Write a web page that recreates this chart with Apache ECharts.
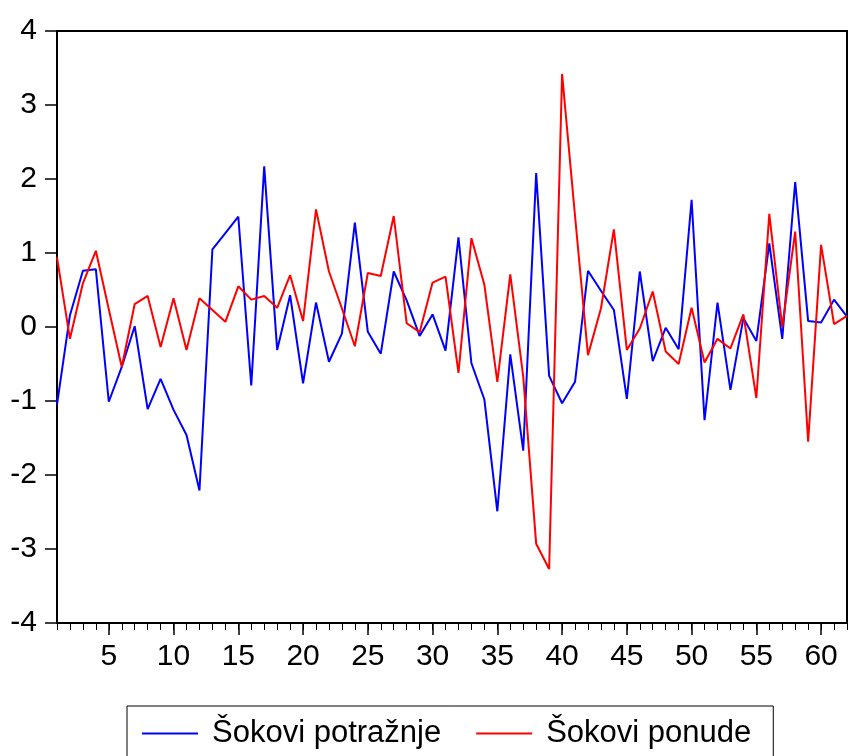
<!DOCTYPE html>
<html>
<head>
<meta charset="utf-8">
<script src="https://cdn.jsdelivr.net/npm/echarts@6/dist/echarts.min.js"></script>
<style>
  html, body { margin: 0; padding: 0; background: #fff; }
  #chart { width: 849px; height: 756px; }
</style>
</head>
<body>
<div id="chart"></div>
<script>
// period index 1..62
var periods = [1, 2, 3, 4, 5, 6, 7, 8, 9, 10, 11, 12, 13, 14, 15, 16, 17, 18, 19, 20,
  21, 22, 23, 24, 25, 26, 27, 28, 29, 30, 31, 32, 33, 34, 35, 36, 37, 38, 39, 40,
  41, 42, 43, 44, 45, 46, 47, 48, 49, 50, 51, 52, 53, 54, 55, 56, 57, 58, 59, 60, 61, 62];

// Šokovi potražnje (blue)
var sokoviPotraznje = [-1.05, 0.16, 0.76, 0.78, -1.01, -0.54, 0.01, -1.11, -0.70, -1.12,
  -1.46, -2.21, 1.05, 1.27, 1.49, -0.79, 2.17, -0.31, 0.43, -0.76,
  0.33, -0.47, -0.09, 1.41, -0.065, -0.36, 0.75, 0.36, -0.12, 0.17,
  -0.32, 1.21, -0.49, -0.98, -2.49, -0.37, -1.67, 2.08, -0.66, -1.03,
  -0.74, 0.76, 0.49, 0.23, -0.97, 0.75, -0.46, -0.01, -0.30, 1.72,
  -1.26, 0.33, -0.85, 0.12, -0.19, 1.13, -0.16, 1.96, 0.08, 0.06,
  0.37, 0.14];

// Šokovi ponude (red)
var sokoviPonude = [0.94, -0.16, 0.59, 1.03, 0.24, -0.54, 0.31, 0.42, -0.27, 0.39,
  -0.31, 0.39, 0.23, 0.07, 0.55, 0.37, 0.42, 0.26, 0.70, 0.08,
  1.59, 0.75, 0.25, -0.26, 0.73, 0.69, 1.50, 0.05, -0.07, 0.60,
  0.68, -0.62, 1.20, 0.57, -0.74, 0.71, -0.67, -2.93, -3.27, 3.42,
  1.50, -0.38, 0.25, 1.32, -0.31, -0.02, 0.48, -0.33, -0.50, 0.26,
  -0.48, -0.16, -0.29, 0.17, -0.96, 1.53, 0.00, 1.29, -1.55, 1.11,
  0.04, 0.15];

var xTickLabels = [5, 10, 15, 20, 25, 30, 35, 40, 45, 50, 55, 60];

var FONT = 'Liberation Sans, Arial, sans-serif';

function pairs(ys) {
  return periods.map(function (p, i) { return [p, ys[i]]; });
}

var chart = echarts.init(document.getElementById('chart'), null, { renderer: 'canvas' });

var option = {
  backgroundColor: '#fff',
  animation: false,
  grid: {
    left: 57,
    right: 2,
    top: 31,
    bottom: 133,
    show: true,
    borderColor: '#000',
    borderWidth: 2,
    backgroundColor: 'transparent'
  },
  legend: {
    left: 127,
    top: 706,
    orient: 'horizontal',
    padding: [12, 22, 30, 15],
    borderColor: '#000',
    borderWidth: 1,
    itemGap: 35,
    itemWidth: 56,
    itemHeight: 2,
    icon: 'rect',
    textStyle: {
      fontFamily: FONT,
      fontSize: 31,
      color: '#000',
      padding: [0, 0, 0, 9]
    },
    data: ['Šokovi potražnje', 'Šokovi ponude']
  },
  xAxis: [
    {
      type: 'value',
      min: 1,
      max: 62,
      position: 'bottom',
      splitLine: { show: false },
      axisLine: { show: true, onZero: false, lineStyle: { color: '#000', width: 2 } },
      axisTick: {
        show: true,
        length: 12,
        customValues: xTickLabels,
        lineStyle: { color: '#000', width: 1.5 }
      },
      axisLabel: {
        customValues: xTickLabels,
        margin: 19,
        fontFamily: FONT,
        fontSize: 30,
        color: '#000'
      }
    },
    {
      type: 'value',
      min: 1,
      max: 62,
      interval: 1,
      position: 'bottom',
      splitLine: { show: false },
      axisLine: { show: false, onZero: false },
      axisTick: { show: true, length: 7, lineStyle: { color: '#000', width: 1 } },
      axisLabel: { show: false }
    }
  ],
  yAxis: {
    type: 'value',
    min: -4,
    max: 4,
    interval: 1,
    splitLine: { show: false },
    axisLine: { show: true, onZero: false, lineStyle: { color: '#000', width: 2 } },
    axisTick: { show: true, length: 12, lineStyle: { color: '#000', width: 1.5 } },
    axisLabel: {
      margin: 20,
      fontFamily: FONT,
      fontSize: 30,
      color: '#000'
    }
  },
  series: [
    {
      name: 'Šokovi potražnje',
      type: 'line',
      xAxisIndex: 0,
      showSymbol: false,
      symbol: 'none',
      color: '#0000ff',
      lineStyle: { color: '#0000ff', width: 2 },
      data: pairs(sokoviPotraznje)
    },
    {
      name: 'Šokovi ponude',
      type: 'line',
      xAxisIndex: 0,
      showSymbol: false,
      symbol: 'none',
      color: '#ff0000',
      lineStyle: { color: '#ff0000', width: 2 },
      data: pairs(sokoviPonude)
    }
  ]
};

chart.setOption(option);
</script>
</body>
</html>
